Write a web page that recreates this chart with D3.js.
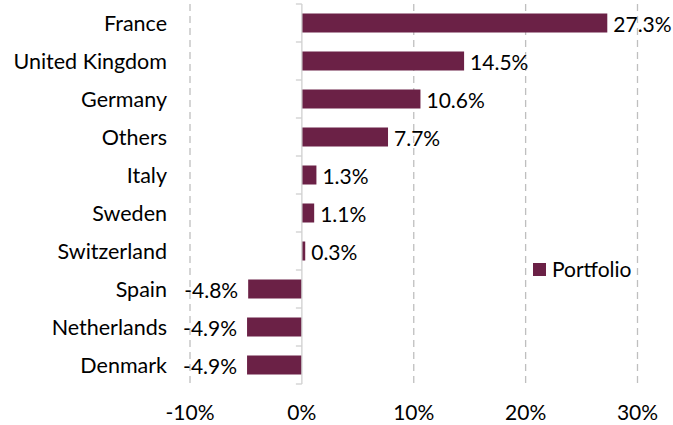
<!DOCTYPE html>
<html>
<head>
<meta charset="utf-8">
<script src="https://cdn.jsdelivr.net/npm/d3@7"></script>
<style>
  body { margin: 0; background: #fff; }
  text { font-family: Lato, "Open Sans", sans-serif; fill: #000; }
</style>
</head>
<body>
<svg width="673" height="425"></svg>
<script>
var countries = ["France", "United Kingdom", "Germany", "Others", "Italy", "Sweden",
  "Switzerland", "Spain", "Netherlands", "Denmark"];
var weights = [27.3, 14.5, 10.6, 7.7, 1.3, 1.1, 0.3, -4.8, -4.9, -4.9];
var tickValues = [-10, 0, 10, 20, 30];
var seriesName = "Portfolio";

var barColor = "#6b2146";
var svg = d3.select("svg");

var x = d3.scaleLinear().domain([-10, 30]).range([190, 637.5]);
var y = d3.scaleBand().domain(countries).range([4, 384]).paddingInner(0.5).paddingOuter(0.25);

// dashed gridlines
svg.append("g")
  .selectAll("line")
  .data(tickValues.filter(function (d) { return d != 0; }))
  .enter()
  .append("line")
  .attr("x1", function (d) { return x(d); })
  .attr("x2", function (d) { return x(d); })
  .attr("y1", 4)
  .attr("y2", 384)
  .attr("stroke", "#bfbfbf")
  .attr("stroke-width", 1.3)
  .attr("stroke-dasharray", "7,5");

// bars
svg.append("g")
  .selectAll("rect")
  .data(weights)
  .enter()
  .append("rect")
  .attr("x", function (d) { return x(Math.min(0, d)); })
  .attr("y", function (d, i) { return y(countries[i]); })
  .attr("width", function (d) { return Math.abs(x(d) - x(0)); })
  .attr("height", y.bandwidth())
  .attr("fill", barColor);

// vertical axis at zero with category ticks
var yAxis = svg.append("g")
  .attr("transform", "translate(" + x(0) + ",0)");
yAxis.append("line")
  .attr("y1", 4).attr("y2", 384)
  .attr("stroke", "#d0d0d0").attr("stroke-width", 1.3);
yAxis.selectAll(".tk")
  .data(d3.range(countries.length + 1))
  .enter()
  .append("line")
  .attr("x1", -6).attr("x2", 0)
  .attr("y1", function (i) { return 4 + i * y.step(); })
  .attr("y2", function (i) { return 4 + i * y.step(); })
  .attr("stroke", "#d0d0d0").attr("stroke-width", 1.3);

// category labels
svg.append("g")
  .selectAll("text")
  .data(countries)
  .enter()
  .append("text")
  .attr("x", 167)
  .attr("y", function (d) { return y(d) + y.bandwidth() / 2; })
  .attr("dy", "0.35em")
  .attr("text-anchor", "end")
  .style("font-size", "21.5px")
  .text(function (d) { return d; });

// value labels
svg.append("g")
  .selectAll("text")
  .data(weights)
  .enter()
  .append("text")
  .attr("x", function (d) { return d >= 0 ? x(d) + 6 : x(d) - 10; })
  .attr("y", function (d, i) { return y(countries[i]) + y.bandwidth() / 2 + 1.5; })
  .attr("dy", "0.35em")
  .attr("text-anchor", function (d) { return d >= 0 ? "start" : "end"; })
  .style("font-size", "21px")
  .text(function (d) { return d.toFixed(1) + "%"; });

// x tick labels
svg.append("g")
  .selectAll("text")
  .data(tickValues)
  .enter()
  .append("text")
  .attr("x", function (d) { return x(d); })
  .attr("y", 413)
  .attr("dy", "0.35em")
  .attr("text-anchor", "middle")
  .style("font-size", "21px")
  .text(function (d) { return d + "%"; });

// legend
var legend = svg.append("g").attr("transform", "translate(533,263)");
legend.append("rect").attr("width", 13).attr("height", 13).attr("fill", barColor);
legend.append("text")
  .attr("x", 19).attr("y", 7)
  .attr("dy", "0.35em")
  .style("font-size", "21px")
  .text(seriesName);
</script>
</body>
</html>
